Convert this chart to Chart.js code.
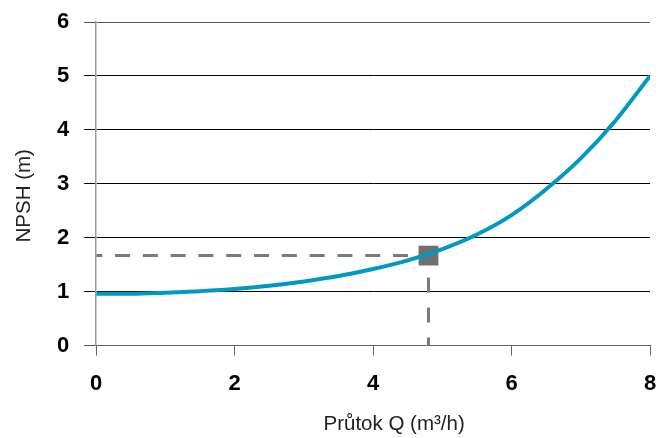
<!DOCTYPE html>
<html>
<head>
<meta charset="utf-8">
<script src="https://cdn.jsdelivr.net/npm/chart.js@4.4.1/dist/chart.umd.min.js"></script>
<style>
  html, body { margin: 0; padding: 0; background: #fff; }
  #wrap { width: 668px; height: 438px; }
</style>
</head>
<body>
<div id="wrap"><canvas id="myChart" width="668" height="438"></canvas></div>
<script>
// krivka NPSH
var flowQ = [0, 0.5, 1, 1.5, 2, 2.5, 3, 3.5, 4, 4.5, 5, 5.5, 6, 6.5, 7, 7.5, 8];
var npsh  = [0.96, 0.96, 0.98, 1.01, 1.05, 1.11, 1.19, 1.29, 1.42, 1.58, 1.79, 2.06, 2.42, 2.90, 3.47, 4.17, 5.0];

// pracovni bod
var opQ = 4.8;
var opNpsh = 1.67;

var xTitle = 'Průtok Q (m³/h)';
var yTitle = 'NPSH (m)';

var FONT = "'Liberation Sans', Arial, Helvetica, sans-serif";

// popisky os kreslime sami, aby sedely na pozici
var axisTitles = {
    id: 'axisTitles',
    afterDraw: function (chart) {
        var ctx = chart.ctx;
        var a = chart.chartArea;
        ctx.save();
        ctx.fillStyle = '#222';
        ctx.font = '20.5px ' + FONT;
        ctx.textAlign = 'center';
        ctx.textBaseline = 'middle';
        ctx.fillText(xTitle, (a.left + a.right) / 2 + 21, 424);
        ctx.translate(24, (a.top + a.bottom) / 2 + 12);
        ctx.rotate(-Math.PI / 2);
        ctx.fillText(yTitle, 0, 0);
        ctx.restore();
    }
};

var ctx = document.getElementById('myChart').getContext('2d');

new Chart(ctx, {
    type: 'line',
    data: {
        datasets: [{
            data: flowQ.map(function (q, i) { return { x: q, y: npsh[i] }; }),
            borderColor: '#0099c2',
            borderWidth: 4,
            pointRadius: 0,
            cubicInterpolationMode: 'monotone',
            fill: false
        }, {
            data: [{ x: opQ, y: opNpsh }],
            showLine: false,
            pointStyle: 'rect',
            pointRadius: 14,
            pointBackgroundColor: '#707070',
            pointBorderWidth: 0
        }, {
            data: [{ x: 0, y: opNpsh }, { x: opQ, y: opNpsh }],
            borderColor: '#7a7a7a',
            borderWidth: 3,
            borderDash: [15, 12.8],
            borderDashOffset: 9,
            pointRadius: 0
        }, {
            data: [{ x: opQ, y: opNpsh }, { x: opQ, y: 0 }],
            borderColor: '#7a7a7a',
            borderWidth: 3,
            borderDash: [15, 15],
            borderDashOffset: 8,
            pointRadius: 0
        }]
    },
    options: {
        responsive: false,
        animation: false,
        layout: {
            padding: { left: 42, right: 18, top: 22, bottom: 26 }
        },
        plugins: {
            legend: { display: false },
            tooltip: { enabled: false }
        },
        scales: {
            x: {
                type: 'linear',
                min: 0,
                max: 8,
                afterFit: function (s) { s.paddingRight = 0; },
                ticks: {
                    stepSize: 2,
                    padding: 15,
                    color: '#000',
                    font: { family: FONT, size: 22, weight: 'bold' }
                },
                grid: {
                    drawOnChartArea: false,
                    tickLength: 10,
                    color: '#666',
                    lineWidth: 1
                },
                border: { color: '#666', width: 1 }
            },
            y: {
                min: 0,
                max: 6,
                afterFit: function (s) { s.paddingTop = 0; },
                ticks: {
                    stepSize: 1,
                    padding: 15,
                    color: '#000',
                    font: { family: FONT, size: 22, weight: 'bold' }
                },
                grid: {
                    tickLength: 12,
                    lineWidth: 1,
                    color: function (c) {
                        return (c.tick && (c.tick.value === 0 || c.tick.value === 6)) ? '#555' : '#000';
                    }
                },
                border: { color: '#999', width: 1.5 }
            }
        }
    },
    plugins: [axisTitles]
});
</script>
</body>
</html>
